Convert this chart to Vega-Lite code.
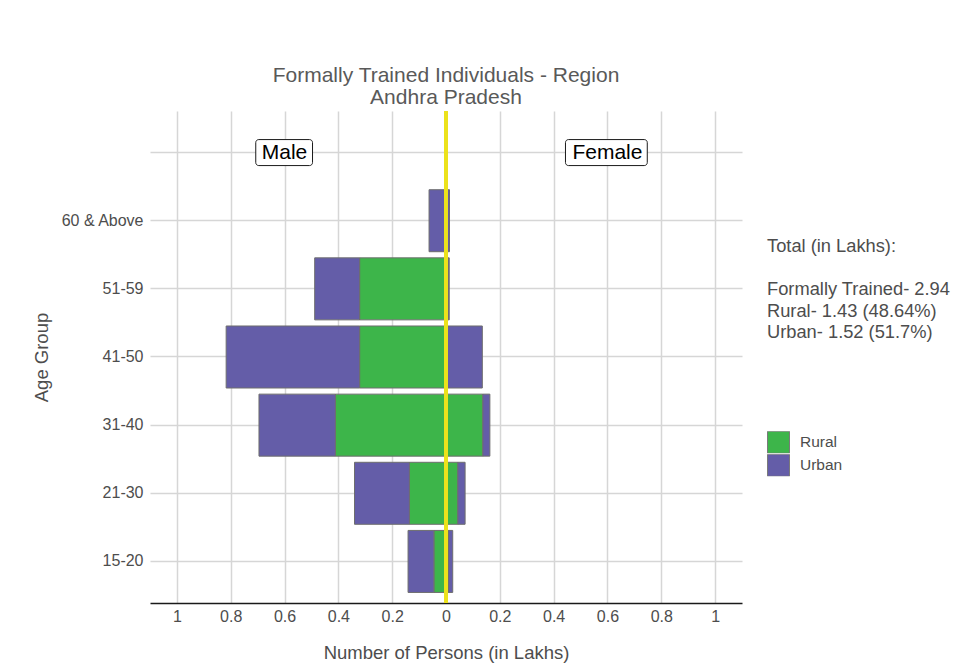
{
  "$schema": "https://vega.github.io/schema/vega-lite/v6.json",
  "width": 592,
  "height": 492,
  "autosize": {"type": "none"},
  "padding": {"left": 150, "top": 111, "right": 213, "bottom": 67},
  "background": "white",
  "title": {
    "text": ["Formally Trained Individuals - Region", "Andhra Pradesh"],
    "anchor": "middle",
    "frame": "group",
    "fontSize": 21,
    "font": "Liberation Sans",
    "fontWeight": "normal",
    "color": "#595959",
    "offset": 1,
    "lineHeight": 22
  },
  "config": {
    "view": {"stroke": null},
    "font": "Liberation Sans",
    "axis": {"gridColor": "#d6d6d6", "gridWidth": 1.5}
  },
  "layer": [
    {
      "data": {
        "values": [
          {"age": "60 & Above", "sex": "Male", "type": "Rural", "value": -0.002},
          {"age": "60 & Above", "sex": "Male", "type": "Urban", "value": -0.061},
          {"age": "60 & Above", "sex": "Female", "type": "Rural", "value": 0.004},
          {"age": "60 & Above", "sex": "Female", "type": "Urban", "value": 0.009},
          {"age": "51-59", "sex": "Male", "type": "Rural", "value": -0.321},
          {"age": "51-59", "sex": "Male", "type": "Urban", "value": -0.167},
          {"age": "51-59", "sex": "Female", "type": "Rural", "value": 0.008},
          {"age": "51-59", "sex": "Female", "type": "Urban", "value": 0.004},
          {"age": "41-50", "sex": "Male", "type": "Rural", "value": -0.321},
          {"age": "41-50", "sex": "Male", "type": "Urban", "value": -0.496},
          {"age": "41-50", "sex": "Female", "type": "Rural", "value": 0.003},
          {"age": "41-50", "sex": "Female", "type": "Urban", "value": 0.132},
          {"age": "31-40", "sex": "Male", "type": "Rural", "value": -0.411},
          {"age": "31-40", "sex": "Male", "type": "Urban", "value": -0.284},
          {"age": "31-40", "sex": "Female", "type": "Rural", "value": 0.137},
          {"age": "31-40", "sex": "Female", "type": "Urban", "value": 0.026},
          {"age": "21-30", "sex": "Male", "type": "Rural", "value": -0.136},
          {"age": "21-30", "sex": "Male", "type": "Urban", "value": -0.204},
          {"age": "21-30", "sex": "Female", "type": "Rural", "value": 0.044},
          {"age": "21-30", "sex": "Female", "type": "Urban", "value": 0.027},
          {"age": "15-20", "sex": "Male", "type": "Rural", "value": -0.045},
          {"age": "15-20", "sex": "Male", "type": "Urban", "value": -0.096},
          {"age": "15-20", "sex": "Female", "type": "Rural", "value": 0.009},
          {"age": "15-20", "sex": "Female", "type": "Urban", "value": 0.016}
        ]
      },
      "mark": {"type": "bar", "stroke": "#6e6e6e", "strokeWidth": 1},
      "encoding": {
        "y": {
          "field": "age",
          "type": "nominal",
          "scale": {
            "domain": ["top", "60 & Above", "51-59", "41-50", "31-40", "21-30", "15-20"],
            "paddingInner": 0.09,
            "paddingOuter": 0.155
          },
          "axis": {
            "title": "Age Group",
            "labelExpr": "datum.value == 'top' ? '' : datum.value",
            "ticks": false,
            "domain": false,
            "grid": true,
            "bandPosition": 0.5,
            "labelFontSize": 16,
            "labelColor": "#4d4d4d",
            "labelPadding": 7,
            "titleFontSize": 18.5,
            "titleFontWeight": "normal",
            "titleColor": "#4d4d4d",
            "titlePadding": 9
          }
        },
        "x": {
          "field": "value",
          "type": "quantitative",
          "stack": "zero",
          "title": "Number of Persons (in Lakhs)",
          "scale": {"domain": [-1.1, 1.1], "nice": false, "zero": false},
          "axis": {
            "values": [-1, -0.8, -0.6, -0.4, -0.2, 0, 0.2, 0.4, 0.6, 0.8, 1],
            "labelExpr": "format(abs(datum.value), '.1~f')",
            "ticks": false,
            "domain": true,
            "domainColor": "#1a1a1a",
            "domainWidth": 1.5,
            "grid": true,
            "labelFontSize": 16,
            "labelColor": "#4d4d4d",
            "labelPadding": 5,
            "titleFontSize": 18.5,
            "titleFontWeight": "normal",
            "titleColor": "#4d4d4d",
            "titlePadding": 19
          }
        },
        "color": {
          "field": "type",
          "type": "nominal",
          "scale": {"domain": ["Rural", "Urban"], "range": ["#3db54a", "#645da8"]},
          "legend": {
            "orient": "none",
            "legendX": 617,
            "legendY": 127,
            "padding": 0,
            "title": ["Total (in Lakhs):", "\u200b", "Formally Trained- 2.94", "Rural- 1.43 (48.64%)", "Urban- 1.52 (51.7%)"],
            "titleFontSize": 18.3,
            "titleLineHeight": 21.5,
            "titleFontWeight": "normal",
            "titleColor": "#4d4d4d",
            "titleLimit": 400,
            "titlePadding": 89,
            "symbolType": "square",
            "symbolSize": 484,
            "symbolOpacity": 1,
            "symbolStrokeColor": "#7a7a7a",
            "symbolStrokeWidth": 1,
            "clipHeight": 22,
            "labelFontSize": 15.5,
            "labelColor": "#4d4d4d",
            "labelOffset": 10,
            "rowPadding": 1
          }
        },
        "order": {"field": "type", "sort": "ascending"}
      }
    },
    {
      "data": {"values": [{"x": 0}]},
      "mark": {"type": "rule", "color": "#ece21c", "strokeWidth": 4},
      "encoding": {"x": {"field": "x", "type": "quantitative", "title": "Number of Persons (in Lakhs)"}}
    },
    {
      "data": {
        "values": [
          {"side": "Male", "age": "top", "pos": -0.6, "lo": -0.707, "hi": -0.496},
          {"side": "Female", "age": "top", "pos": 0.6, "lo": 0.444, "hi": 0.748}
        ]
      },
      "layer": [
        {
          "mark": {"type": "bar", "height": 26, "fill": "white", "stroke": "#1a1a1a", "strokeWidth": 1, "cornerRadius": 3},
          "encoding": {
            "y": {"field": "age", "type": "nominal"},
            "x": {"field": "lo", "type": "quantitative", "title": "Number of Persons (in Lakhs)"},
            "x2": {"field": "hi"}
          }
        },
        {
          "mark": {"type": "text", "fontSize": 21, "color": "black", "font": "Liberation Sans"},
          "encoding": {
            "y": {"field": "age", "type": "nominal"},
            "x": {"field": "pos", "type": "quantitative", "title": "Number of Persons (in Lakhs)"},
            "text": {"field": "side"}
          }
        }
      ]
    }
  ]
}
